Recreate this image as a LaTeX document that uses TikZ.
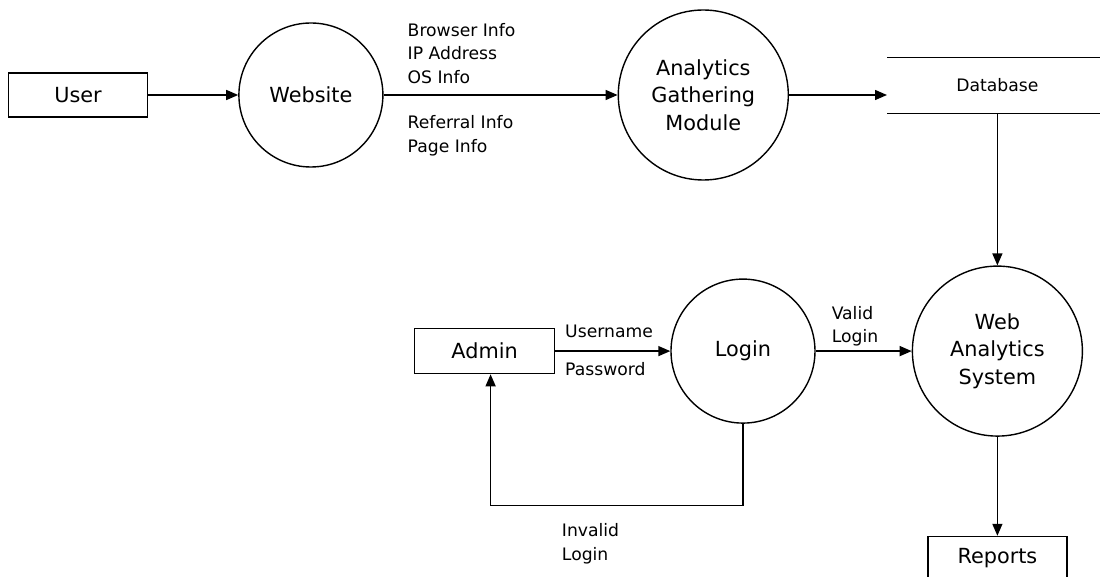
\documentclass[tikz,border=0pt]{standalone}
\usepackage{fontspec}
\setmainfont{DejaVu Sans}
\usetikzlibrary{arrows.meta, positioning}

\newcommand{\nodefont}{\fontsize{10.4}{13.75}\selectfont}
\newcommand{\flowfont}{\fontsize{8.6}{11.75}\selectfont}

\begin{document}
\begin{tikzpicture}[entity/.style={rectangle, draw, line width=0.7pt, minimum width=69.5pt, minimum height=22pt, font=\nodefont},
        process/.style={circle, draw, line width=0.7pt, align=center, inner sep=0pt, font=\nodefont},
        flowtext/.style={inner sep=0pt, align=left, font=\flowfont},
        flow/.style={-{Triangle[length=6pt, width=5pt]}, line width=0.7pt}]
        \useasboundingbox (0,0) rectangle (550pt,-288.5pt);
        % top row
        \node[entity] (user) at (39pt,-47.5pt) {User};
        \node[process, minimum size=72pt] (website) [right = 45pt of user] {Website};
        \node[process, minimum size=85pt] (agm) [right = 117pt of website] {Analytics\\Gathering\\Module};
        \node[minimum width=110pt, minimum height=27.5pt, font=\flowfont] (db) [right = 49pt of agm, yshift=4.75pt] {Database};
        \draw[line width=0.7pt] (db.north west) -- (db.north east) (db.south west) -- (db.south east);
        
        % bottom row
        \node[process, minimum size=85pt] (web) [below = 76pt of db] {Web\\Analytics\\System};
        \node[entity] (reports) [below = 49.5pt of web] {Reports};
        \node[process, minimum size=72pt] (login) [left = 48pt of web] {Login};
        \node[entity, minimum width=70pt, minimum height=22.5pt] (admin) [left = 57.5pt of login] {Admin};
        
        \path[flow]  (user) edge (website);
        \path[flow]  (website) edge node[flowtext, pos=0.1, anchor=south west, yshift=5.5pt] {Browser Info\\IP Address\\OS Info}
                                    node[flowtext, pos=0.1, anchor=north west, yshift=-10pt] {Referral Info\\Page Info} (agm);
        \path[flow]  (agm.east) edge (agm.east -| db.west);
        \path[flow]  (db) edge (web);
        \path[flow]  (web) edge (reports);
        \path[flow]  (admin) edge node[flowtext, pos=0.08, anchor=south west, yshift=6.5pt] {Username}
                                  node[flowtext, pos=0.08, anchor=north west, yshift=-5.5pt] {Password} (login);
        \path[flow]  (login) edge node[flowtext, pos=0.16, anchor=south west, yshift=2pt] {Valid\\Login} (web);
        \draw[flow]  (login.south) -- ++(0,-41pt) -| node[flowtext, pos=0.36, anchor=north west, yshift=-8.5pt] {Invalid\\Login} ([xshift=3pt]admin.south);
    \end{tikzpicture}
\end{document}
